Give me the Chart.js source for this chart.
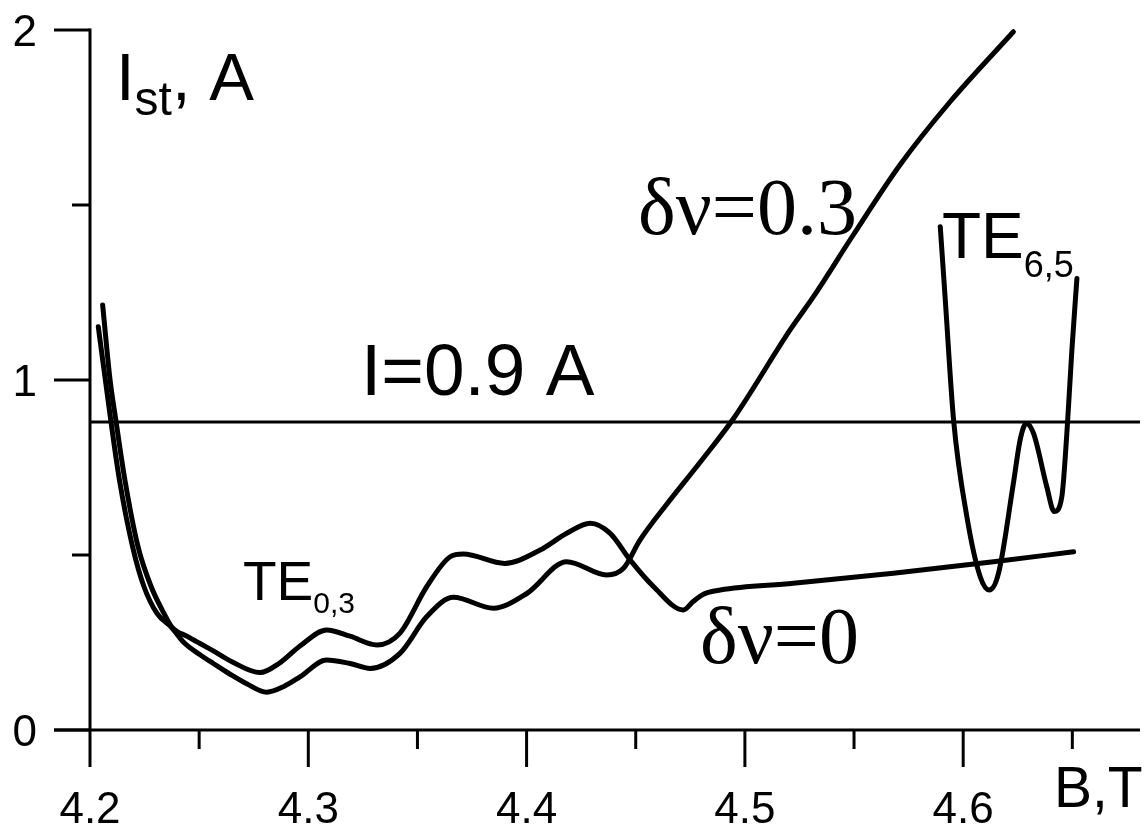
<!DOCTYPE html>
<html>
<head>
<meta charset="utf-8">
<script src="https://cdn.jsdelivr.net/npm/chart.js@4/dist/chart.umd.min.js"></script>
<style>
html,body{margin:0;padding:0;background:#fff;}
#wrap{width:1146px;height:825px;position:relative;}
</style>
</head>
<body>
<div id="wrap"><canvas id="c" width="1146" height="825"></canvas></div>
<script>
// ---- data ----
const xMajorTicks = [4.2, 4.3, 4.4, 4.5, 4.6];
const xMinorTicks = [4.25, 4.35, 4.45, 4.55, 4.65];
const yMajorTicks = [0, 1, 2];
const yMinorTicks = [0.5, 1.5];
const xTickLabels = ["4.2", "4.3", "4.4", "4.5", "4.6"];
const yTickLabels = ["0", "1", "2"];

// δν=0 curve
const dnu0X = [4.2058,4.2092,4.2119,4.2160,4.2220,4.2280,4.2339,4.2374,4.2450,4.2504,4.2565,4.2650,4.2779,4.2870,4.2962,4.3084,4.3191,4.3314,4.3420,4.3543,4.3650,4.3710,4.3900,4.4062,4.4184,4.4291,4.4383,4.4474,4.4581,4.4718,4.4763,4.4810,4.4887,4.5222,4.5680,4.6139,4.6506];
const dnu0Y = [1.214,1.000,0.883,0.714,0.524,0.410,0.333,0.295,0.266,0.247,0.226,0.195,0.164,0.192,0.240,0.286,0.268,0.243,0.277,0.410,0.495,0.503,0.476,0.514,0.562,0.591,0.562,0.486,0.410,0.343,0.367,0.388,0.400,0.419,0.448,0.481,0.509];

// δν=0.3 curve
const dnu03X = [4.2038,4.2096,4.2135,4.2195,4.2247,4.2307,4.2374,4.2430,4.2504,4.2565,4.2640,4.2718,4.2810,4.2890,4.2962,4.3084,4.3191,4.3283,4.3420,4.3543,4.3665,4.3848,4.4001,4.4184,4.4367,4.4444,4.4520,4.4642,4.4795,4.4948,4.5207,4.5314,4.5497,4.5711,4.5940,4.6230];
const dnu03Y = [1.152,0.881,0.714,0.524,0.410,0.333,0.293,0.250,0.215,0.190,0.160,0.132,0.108,0.125,0.152,0.200,0.190,0.176,0.219,0.324,0.379,0.348,0.390,0.481,0.443,0.462,0.543,0.645,0.765,0.890,1.143,1.238,1.415,1.615,1.795,1.995];

// TE6,5 resonance curve
const te65X = [4.5895,4.5918,4.5956,4.6017,4.6078,4.6120,4.6162,4.6230,4.6261,4.6289,4.6322,4.6383,4.6417,4.6452,4.6475,4.6498,4.6521];
const te65Y = [1.438,1.229,0.886,0.609,0.438,0.400,0.448,0.705,0.829,0.876,0.848,0.695,0.624,0.667,0.848,1.086,1.290];

// horizontal level I = 0.9 A (drawn where it sits in the picture)
const levelX = [4.2, 4.681];
const levelY = [0.88, 0.88];

const xMin = 4.2, xMax = 4.681, yMin = 0, yMax = 2;

function pts(xs, ys){ return xs.map((x,i)=>({x:x, y:ys[i]})); }

const sans = '"Liberation Sans", Arial, Helvetica, sans-serif';
const serif = '"Liberation Serif", "Times New Roman", serif';

function drawSub(ctx, x, y, main, mainSize, sub, subSize, subDrop, tail){
  ctx.textAlign = 'left';
  ctx.textBaseline = 'alphabetic';
  ctx.font = mainSize + 'px ' + sans;
  ctx.fillText(main, x, y);
  let w = ctx.measureText(main).width;
  ctx.font = subSize + 'px ' + sans;
  ctx.fillText(sub, x + w, y + subDrop);
  let w2 = ctx.measureText(sub).width;
  if (tail){
    ctx.font = mainSize + 'px ' + sans;
    ctx.fillText(tail, x + w + w2, y);
  }
}

const axesPlugin = {
  id: 'axesPlugin',
  afterDraw(chart){
    const ctx = chart.ctx;
    const xs = chart.scales.x, ys = chart.scales.y;
    const x0 = xs.getPixelForValue(xMin);
    const y0 = ys.getPixelForValue(0);
    const yTop = ys.getPixelForValue(yMax);
    const xRight = xs.getPixelForValue(xMax);
    ctx.save();
    ctx.strokeStyle = '#000';
    ctx.fillStyle = '#000';
    ctx.lineWidth = 3;
    ctx.lineCap = 'butt';
    // x axis line
    ctx.beginPath();
    ctx.moveTo(x0 - 36, y0);
    ctx.lineTo(xRight, y0);
    ctx.stroke();
    // y axis line
    ctx.beginPath();
    ctx.moveTo(x0, yTop - 1.5);
    ctx.lineTo(x0, y0);
    ctx.stroke();
    // x ticks
    xMajorTicks.forEach(v=>{
      const p = xs.getPixelForValue(v);
      ctx.beginPath(); ctx.moveTo(p, y0); ctx.lineTo(p, y0 + 37); ctx.stroke();
    });
    xMinorTicks.forEach(v=>{
      const p = xs.getPixelForValue(v);
      ctx.beginPath(); ctx.moveTo(p, y0); ctx.lineTo(p, y0 + 19); ctx.stroke();
    });
    // y ticks
    yMajorTicks.forEach(v=>{
      const p = ys.getPixelForValue(v);
      ctx.beginPath(); ctx.moveTo(x0 - 36, p); ctx.lineTo(x0, p); ctx.stroke();
    });
    yMinorTicks.forEach(v=>{
      const p = ys.getPixelForValue(v);
      ctx.beginPath(); ctx.moveTo(x0 - 18, p); ctx.lineTo(x0, p); ctx.stroke();
    });
    // tick labels
    ctx.font = '44px ' + sans;
    ctx.textBaseline = 'alphabetic';
    ctx.textAlign = 'center';
    xMajorTicks.forEach((v,i)=>{
      ctx.fillText(xTickLabels[i], xs.getPixelForValue(v), y0 + 93);
    });
    ctx.textAlign = 'right';
    yMajorTicks.forEach((v,i)=>{
      ctx.fillText(yTickLabels[i], 37, ys.getPixelForValue(v) + 16);
    });
    // axis titles
    drawSub(ctx, 116, 100, 'I', 67, 'st', 48, 15, ', A');
    ctx.textAlign = 'left';
    ctx.font = '57px ' + sans;
    ctx.fillText('B,T', 1054, 807);
    // annotations
    ctx.font = '73px ' + sans;
    ctx.fillText('I=0.9 A', 361, 395);
    drawSub(ctx, 243, 600, 'TE', 55, '0,3', 30, 13);
    drawSub(ctx, 942, 258, 'TE', 64, '6,5', 36, 19);
    ctx.font = '80px ' + serif;
    ctx.textAlign = 'left';
    ctx.fillText('\u03B4\u03BD=0.3', 638, 234);
    ctx.fillText('\u03B4\u03BD=0', 700, 663);
    ctx.restore();
  }
};

const lineStyle = {
  showLine: true,
  borderColor: '#000',
  backgroundColor: '#000',
  borderWidth: 5,
  pointRadius: 0,
  pointHoverRadius: 0,
  fill: false,
  cubicInterpolationMode: 'monotone',
  borderCapStyle: 'round',
  borderJoinStyle: 'round',
  clip: false
};

new Chart(document.getElementById('c'), {
  type: 'scatter',
  data: {
    datasets: [
      Object.assign({label: '\u03B4\u03BD=0', data: pts(dnu0X, dnu0Y)}, lineStyle),
      Object.assign({label: '\u03B4\u03BD=0.3', data: pts(dnu03X, dnu03Y)}, lineStyle),
      Object.assign({label: 'TE6,5', data: pts(te65X, te65Y)}, lineStyle),
      Object.assign({}, lineStyle, {label: 'I=0.9 A', data: pts(levelX, levelY), borderWidth: 3, borderCapStyle: 'butt', cubicInterpolationMode: 'default', tension: 0})
    ]
  },
  options: {
    responsive: false,
    animation: false,
    layout: { padding: { left: 90, right: 6, top: 30, bottom: 95 } },
    plugins: { legend: { display: false }, tooltip: { enabled: false } },
    scales: {
      x: { type: 'linear', min: xMin, max: xMax, display: false },
      y: { type: 'linear', min: yMin, max: yMax, display: false }
    }
  },
  plugins: [axesPlugin]
});
</script>
</body>
</html>
